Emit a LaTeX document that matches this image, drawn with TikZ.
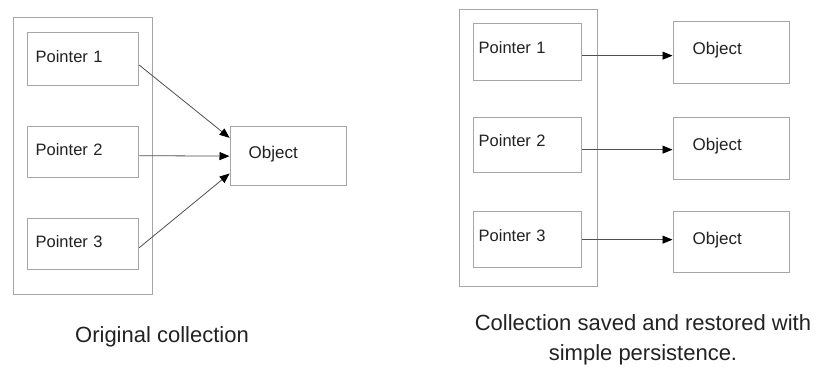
\documentclass[tikz,border=0pt]{standalone}
\usepackage{fontspec}
\setmainfont{Liberation Sans}
\usetikzlibrary{arrows.meta}
\definecolor{boxline}{HTML}{A6A6A6}
\definecolor{arrline}{HTML}{505050}
\definecolor{txt}{HTML}{222222}
\begin{document}
\begin{tikzpicture}[x=1pt,y=-1pt,
  every node/.style={text=txt},
  frame/.style={draw=boxline, line width=1.3pt, anchor=north west, inner sep=0pt},
  ptr/.style={draw=boxline, line width=1.3pt, anchor=north west, inner ysep=0pt,
     align=left, font=\fontsize{16.5}{19}\selectfont},
  obj/.style={draw=boxline, line width=1.3pt, anchor=north west, inner ysep=0pt,
     align=left, font=\fontsize{17}{20}\selectfont, text depth=8pt},
  arr/.style={draw=arrline, line width=0.8pt, -{Triangle[length=10pt,width=8pt,color=black,fill=black]}, shorten >=0.5pt},
  captext/.style={font=\fontsize{22}{30}\selectfont, align=center}]
\useasboundingbox (0,0) rectangle (826,371);
\fill[white] (0,0) rectangle (826,371);
% ---------- left panel ----------
\node[frame, minimum width=139pt, minimum height=277pt] (lc) at (13,17) {};
\node[ptr, inner xsep=8pt, text width=95pt, minimum height=53pt, text depth=6pt] (lp1) at (27,32) {Pointer 1};
\node[ptr, inner xsep=8pt, text width=95pt, minimum height=51pt, text depth=5pt] (lp2) at (27,126) {Pointer 2};
\node[ptr, inner xsep=8pt, text width=95pt, minimum height=51pt, text depth=5pt] (lp3) at (27,218) {Pointer 3};
\node[obj, inner xsep=18pt, text width=80pt, minimum height=59pt] (lo) at (230,126) {Object};
\draw[arr] ([yshift=-6pt]lp1.east) -- ([yshift=18pt]lo.west);
\draw[arr] ([yshift=-3.5pt]lp2.east) -- (lo.west);
\draw[arr] ([yshift=-3.5pt]lp3.east) -- ([yshift=-17pt]lo.west);
\node[captext] (lcap) at (162,337) {Original collection};
% ---------- right panel ----------
\node[frame, minimum width=138pt, minimum height=277pt] (rc) at (459,9) {};
\node[ptr, inner xsep=5pt, text width=98pt, minimum height=57pt, text depth=9pt] (rp1) at (473,23) {Pointer 1};
\node[ptr, inner xsep=5pt, text width=98pt, minimum height=55pt, text depth=9pt] (rp2) at (473,117) {Pointer 2};
\node[ptr, inner xsep=5pt, text width=98pt, minimum height=56pt, text depth=9pt] (rp3) at (473,211) {Pointer 3};
\node[obj, inner xsep=19pt, text width=78pt, minimum height=62pt] (ro1) at (673,21) {Object};
\node[obj, inner xsep=19pt, text width=78pt, minimum height=62pt] (ro2) at (673,117) {Object};
\node[obj, inner xsep=19pt, text width=78pt, minimum height=61pt] (ro3) at (673,211) {Object};
\draw[arr] ([yshift=-3.5pt]rp1.east) -- ([yshift=-3.5pt]rp1.east -| ro1.west);
\draw[arr] ([yshift=-4.5pt]rp2.east) -- ([yshift=-4.5pt]rp2.east -| ro2.west);
\draw[arr] ([yshift=0pt]rp3.east) -- ([yshift=0pt]rp3.east -| ro3.west);
\node[captext] (rcap) at (643,340) {Collection saved and restored with\\simple persistence.};
\end{tikzpicture}
\end{document}
